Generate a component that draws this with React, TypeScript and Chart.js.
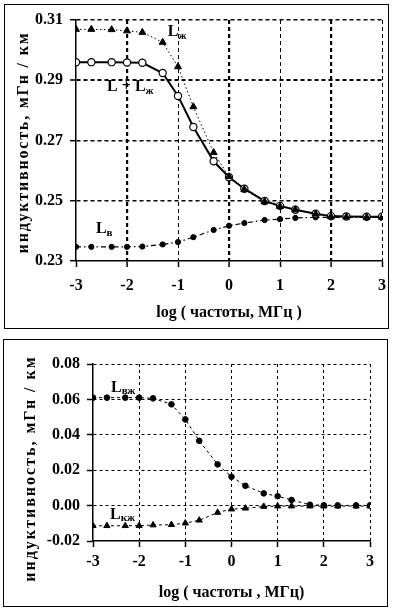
import React, { useEffect, useRef } from "react";
import { Chart, registerables } from "chart.js";

Chart.register(...registerables);

// log10 of frequency in MHz (1-2-5 sequence)
const LOG_FREQ = [-3, -2.699, -2.301, -2, -1.699, -1.301, -1, -0.699, -0.301, 0, 0.301, 0.699, 1, 1.301, 1.699, 2, 2.301, 2.699, 3];

// upper chart, mH/km
const L_PLUS_LZH = [0.2960, 0.2960, 0.2960, 0.2959, 0.2958, 0.2924, 0.2848, 0.2745, 0.2631, 0.2578, 0.2540, 0.2499, 0.2483, 0.2470, 0.2457, 0.2449, 0.2448, 0.2447, 0.2447];
const L_ZH = [0.3069, 0.3069, 0.3068, 0.3064, 0.3059, 0.3026, 0.2945, 0.2812, 0.2660, 0.2580, 0.2537, 0.2497, 0.2481, 0.2470, 0.2456, 0.2447, 0.2446, 0.2445, 0.2445];
const L_V = [0.2347, 0.2347, 0.2347, 0.2347, 0.2348, 0.2355, 0.2363, 0.2379, 0.2403, 0.2417, 0.2426, 0.2436, 0.2439, 0.2443, 0.2445, 0.2445, 0.2445, 0.2445, 0.2445];

// lower chart, mH/km
const L_VZH = [0.0610, 0.0610, 0.0610, 0.0610, 0.0606, 0.0572, 0.0487, 0.0366, 0.0233, 0.0163, 0.0112, 0.0069, 0.0053, 0.0032, 0.0005, 0.0002, 0.0001, 0.0001, 0.0001];
const L_KZH = [-0.0114, -0.0114, -0.0114, -0.0113, -0.0110, -0.0108, -0.0099, -0.0083, -0.0039, -0.0020, -0.0015, -0.0005, -0.0003, -0.0003, -0.0003, -0.0003, -0.0003, -0.0003, -0.0003];

// axis ranges / ticks
const X_MIN = -3;
const X_MAX = 3;
const X_STEP = 1;
const TOP_Y_MIN = 0.23;
const TOP_Y_MAX = 0.31;
const BOT_Y_MIN = -0.02;
const BOT_Y_MAX = 0.08;
const Y_STEP = 0.02;

const X_TITLE_TOP = "log ( частоты, МГц )";
const X_TITLE_BOT = "log ( частоты , МГц)";
const Y_TITLE = "индуктивность, мГн / км";

const FONT = '"Liberation Serif", "Times New Roman", serif';

const toPts = (ys: number[]) => LOG_FREQ.map((x, i) => ({ x, y: ys[i] }));

const near = (a: number, b: number) => Math.abs(a - b) < 1e-6;

const curveLabels = {
  id: "curveLabels",
  afterDatasetsDraw(chart: any, _args: any, opts: any) {
    const { ctx, scales } = chart;
    const xs = scales.x;
    const ys = scales.y;
    (opts.items || []).forEach((it: any) => {
      const px = xs.getPixelForValue(it.x);
      const py = ys.getPixelForValue(it.y);
      ctx.save();
      ctx.fillStyle = "#000";
      ctx.textBaseline = "middle";
      ctx.textAlign = "left";
      ctx.font = `bold 16px ${FONT}`;
      ctx.fillText(it.main, px, py);
      const w = ctx.measureText(it.main).width;
      if (it.sub) {
        ctx.font = `bold 11px ${FONT}`;
        ctx.fillText(it.sub, px + w, py + 4);
      }
      ctx.restore();
    });
  },
};

const axisTitles = {
  id: "axisTitles",
  afterDraw(chart: any, _args: any, opts: any) {
    const { ctx, chartArea } = chart;
    ctx.save();
    ctx.fillStyle = "#000";
    ctx.font = `bold 16px ${FONT}`;
    ctx.textAlign = "center";
    ctx.textBaseline = "middle";
    ctx.fillText(opts.xTitle, (chartArea.left + chartArea.right) / 2, opts.xTitleY);
    ctx.translate(opts.yTitleX, (chartArea.top + chartArea.bottom) / 2 + (opts.yShift || 0));
    ctx.rotate(-Math.PI / 2);
    (ctx as any).letterSpacing = opts.spacing || "0px";
    ctx.fillText(opts.yTitle, 0, 0);
    ctx.restore();
  },
};

function makeConfig(spec: any) {
  return {
    type: "line",
    data: { datasets: spec.datasets },
    plugins: [curveLabels, axisTitles],
    options: {
      responsive: false,
      animation: false,
      events: [],
      layout: { padding: { top: spec.padTop, right: spec.padRight, left: 0, bottom: 0 } },
      plugins: {
        legend: { display: false },
        tooltip: { enabled: false },
        curveLabels: { items: spec.labels },
        axisTitles: {
          xTitle: spec.xTitle,
          xTitleY: spec.xTitleY,
          yTitle: Y_TITLE,
          yTitleX: spec.yTitleX,
          yShift: spec.yShift,
          spacing: spec.spacing,
        },
      },
      scales: {
        x: {
          type: "linear",
          min: X_MIN,
          max: X_MAX,
          afterFit: (s: any) => {
            s.height = spec.xAxisH;
            s.paddingLeft = 0;
            s.paddingRight = 0;
          },
          ticks: {
            stepSize: X_STEP,
            padding: spec.xPad,
            color: "#000",
            font: { family: FONT, size: 16, weight: "bold" },
            callback: (v: any) => String(v),
          },
          grid: {
            color: (c: any) => (c.tick && near(c.tick.value, X_MIN) ? "rgba(0,0,0,0)" : "#000"),
            lineWidth: (c: any) => spec.vLineWidth(c.tick ? c.tick.value : 0),
            tickLength: 6,
            tickColor: "#000",
            tickWidth: 1.5,
            tickBorderDash: [],
          },
          border: { display: true, color: "#000", width: 1.5, dash: spec.dash },
        },
        y: {
          type: "linear",
          min: spec.yMin,
          max: spec.yMax,
          afterFit: (s: any) => {
            s.width = spec.yAxisW;
            s.paddingTop = 0;
            s.paddingBottom = 0;
          },
          ticks: {
            stepSize: Y_STEP,
            padding: 7,
            color: "#000",
            font: { family: FONT, size: 16, weight: "bold" },
            callback: (v: any) => Number(v).toFixed(2),
          },
          grid: {
            color: (c: any) => (c.tick && near(c.tick.value, spec.yMin) ? "rgba(0,0,0,0)" : "#000"),
            lineWidth: (c: any) => spec.hLineWidth(c.tick ? c.tick.value : 0),
            tickLength: 6,
            tickColor: "#000",
            tickWidth: 1.5,
            tickBorderDash: [],
          },
          border: { display: true, color: "#000", width: 1.5, dash: spec.dash },
        },
      },
    },
  };
}

function useChart(ref: React.RefObject<HTMLCanvasElement>, build: () => any) {
  useEffect(() => {
    if (!ref.current) return;
    const chart = new Chart(ref.current, build());
    return () => chart.destroy();
  }, []);
}

export default function App() {
  const topRef = useRef<HTMLCanvasElement>(null);
  const botRef = useRef<HTMLCanvasElement>(null);

  useChart(topRef, () =>
    makeConfig({
      padTop: 15,
      padRight: 6,
      yAxisW: 71,
      xAxisH: 67,
      xPad: 9,
      yMin: TOP_Y_MIN,
      yMax: TOP_Y_MAX,
      dash: [4, 3],
      vLineWidth: (v: number) => (Math.round(v) % 2 === 0 ? 2.2 : 1),
      hLineWidth: (v: number) => (near(v, 0.29) ? 2 : 1.4),
      xTitle: X_TITLE_TOP,
      xTitleY: 308,
      yTitleX: 18.5,
      yShift: 2,
      spacing: "1.8px",
      labels: [
        { main: "L", sub: "ж", x: -1.2, y: 0.306 },
        { main: "L + L", sub: "ж", x: -2.39, y: 0.2878 },
        { main: "L", sub: "в", x: -2.61, y: 0.2406 },
      ],
      datasets: [
        {
          label: "Lж",
          data: toPts(L_ZH),
          borderColor: "#000",
          borderWidth: 1,
          borderDash: [1.5, 2.5],
          pointStyle: "triangle",
          pointRadius: 4,
          pointBackgroundColor: "#000",
          pointBorderColor: "#000",
          pointBorderWidth: 1,
          order: 1,
        },
        {
          label: "L + Lж",
          data: toPts(L_PLUS_LZH),
          borderColor: "#000",
          borderWidth: 2,
          pointStyle: "circle",
          pointRadius: 3.6,
          pointBackgroundColor: "#fff",
          pointBorderColor: "#000",
          pointBorderWidth: 1.2,
          order: 2,
        },
        {
          label: "Lв",
          data: toPts(L_V),
          borderColor: "#000",
          borderWidth: 1.2,
          borderDash: [5, 3, 1.5, 3],
          pointStyle: "circle",
          pointRadius: 2.6,
          pointBackgroundColor: "#000",
          pointBorderColor: "#000",
          pointBorderWidth: 1,
          order: 3,
        },
      ],
    })
  );

  useChart(botRef, () =>
    makeConfig({
      padTop: 24,
      padRight: 17,
      yAxisW: 89,
      xAxisH: 65,
      xPad: 5,
      yMin: BOT_Y_MIN,
      yMax: BOT_Y_MAX,
      dash: [3, 3],
      vLineWidth: () => 1,
      hLineWidth: () => 1,
      xTitle: X_TITLE_BOT,
      xTitleY: 253,
      yTitleX: 27,
      yShift: 16,
      spacing: "2px",
      labels: [
        { main: "L", sub: "вж", x: -2.61, y: 0.0668 },
        { main: "L", sub: "кж", x: -2.63, y: -0.005 },
      ],
      datasets: [
        {
          label: "Lвж",
          data: toPts(L_VZH),
          borderColor: "#000",
          borderWidth: 1,
          borderDash: [3, 3],
          pointStyle: "circle",
          pointRadius: 2.8,
          pointBackgroundColor: "#000",
          pointBorderColor: "#000",
          pointBorderWidth: 1,
          order: 1,
        },
        {
          label: "Lкж",
          data: toPts(L_KZH),
          borderColor: "#000",
          borderWidth: 1,
          borderDash: [3, 3],
          pointStyle: "triangle",
          pointRadius: 3.6,
          pointBackgroundColor: "#000",
          pointBorderColor: "#000",
          pointBorderWidth: 1,
          order: 2,
        },
      ],
    })
  );

  return (
    <div style={{ position: "fixed", left: 0, top: 0, width: 393, height: 612, background: "#fff" }}>
      <div style={{ position: "absolute", left: 4, top: 4, width: 383, height: 323, border: "1px solid #000" }}>
        <canvas ref={topRef} width={383} height={323} style={{ display: "block" }} />
      </div>
      <div style={{ position: "absolute", left: 3, top: 339, width: 383, height: 266, border: "1px solid #000" }}>
        <canvas ref={botRef} width={383} height={266} style={{ display: "block" }} />
      </div>
    </div>
  );
}
